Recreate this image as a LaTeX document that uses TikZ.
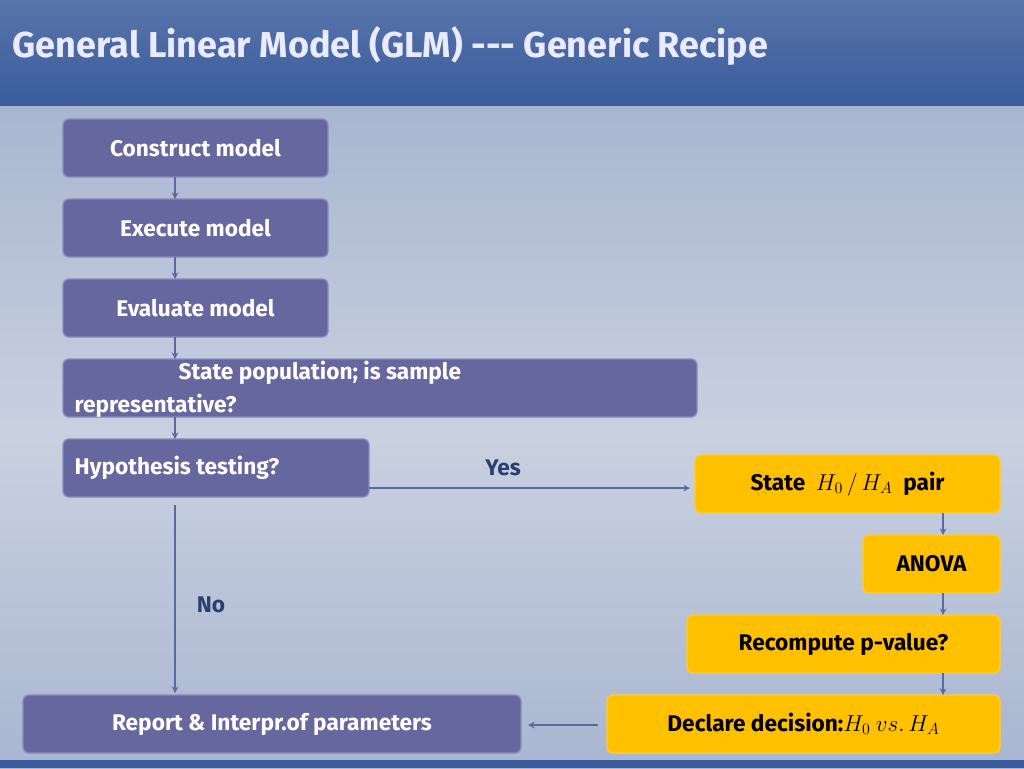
\documentclass[tikz,border=0pt]{standalone}
\usepackage{fontspec}
\setmainfont{Fira Sans}
\usetikzlibrary{arrows, positioning}
\definecolor{titleblue}{HTML}{3A5C9C}
\definecolor{bgtop}{HTML}{A9B6D0}
\definecolor{bgmid}{HTML}{C9D1E0}
\definecolor{stepfill}{HTML}{6767A0}
\definecolor{stepline}{HTML}{8A8ABD}
\definecolor{goldfill}{HTML}{FFC000}
\definecolor{flowline}{HTML}{5A68A8}
\begin{document}
\begin{tikzpicture}[>=stealth, x=0.75pt, y=-0.75pt, font=\fontsize{17}{20}\selectfont\bfseries,
  stepbox/.style={draw=stepline, fill=stepfill, rounded corners=4pt, text=white, line width=1pt},
  goldbox/.style={draw=goldfill!80!white, fill=goldfill, rounded corners=4pt, text=black, line width=1pt},
  flow/.style={->, draw=flowline, line width=1.2pt}]
\useasboundingbox (0,0) rectangle (1024,768);
\shade[top color=bgtop, bottom color=bgtop, middle color=bgmid] (0,105) rectangle (1024,768);
\shade[top color=titleblue!85!white, bottom color=titleblue] (0,0) rectangle (1024,105);
\fill[titleblue] (0,760) rectangle (1024,768);
\node[anchor=west, text=white!92!blue, font=\fontsize{27}{32}\selectfont\bfseries] (title) at (8,46) {General Linear Model (GLM) -{}-{}- Generic Recipe};
%
\draw[stepbox] (63,119) rectangle (328,177) node[midway] (construct) {Construct model};
\draw[stepbox] (63,199) rectangle (328,257) node[midway] (execute) {Execute model};
\draw[stepbox] (63,279) rectangle (328,337) node[midway] (evaluate) {Evaluate model};
\draw[stepbox] (63,359) rectangle (697,417);
\node[text=white, anchor=west] (population) at (174,373) {State population; is sample};
\node[text=white, anchor=west] (repr) at (70,406) {representative?};
\draw[stepbox] (63,439) rectangle (369,497);
\node[text=white, anchor=west] (hyp) at (70,468) {Hypothesis testing?};
\draw[stepbox] (23,695) rectangle (521,753) node[midway] (report) {Report \& Interpr.of parameters};
%
\draw[goldbox] (695,455) rectangle (1000,513) node[midway] (state) {State \ $H_0\,/\,H_A$ \ pair};
\draw[goldbox] (863,535) rectangle (1000,593) node[midway] (anova) {ANOVA};
\draw[goldbox] (687,615) rectangle (1000,673) node[midway] (recompute) {Recompute p-value?};
\draw[goldbox] (607,695) rectangle (1000,753) node[midway] (declare) {Declare decision:$H_0\ vs.\,H_A$};
%
\coordinate (c1) at (175,177); \coordinate (c2) at (175,199);
\coordinate (c3) at (175,257); \coordinate (c4) at (175,279);
\coordinate (c5) at (175,337); \coordinate (c6) at (175,359);
\coordinate (c7) at (175,417); \coordinate (c8) at (175,439);
\draw[flow] (c1) -- (c2);
\draw[flow] (c3) -- (c4);
\draw[flow] (c5) -- (c6);
\draw[flow] (c7) -- (c8);
\coordinate (yesA) at (369,488); \coordinate (yesB) at (690,488);
\draw[flow] (yesA) -- (yesB);
\node[text=titleblue!70!black] (yes) at (503,468) {Yes};
\coordinate (noA) at (175,505); \coordinate (noB) at (175,693);
\draw[flow] (noA) -- (noB);
\node[text=titleblue!70!black] (no) at (211,605) {No};
\coordinate (g1) at (943,513); \coordinate (g2) at (943,535);
\coordinate (g3) at (943,593); \coordinate (g4) at (943,615);
\coordinate (g5) at (943,673); \coordinate (g6) at (943,695);
\draw[flow] (g1) -- (g2);
\draw[flow] (g3) -- (g4);
\draw[flow] (g5) -- (g6);
\coordinate (dA) at (598,725); \coordinate (dB) at (528,725);
\draw[flow] (dA) -- (dB);
\end{tikzpicture}
\end{document}
